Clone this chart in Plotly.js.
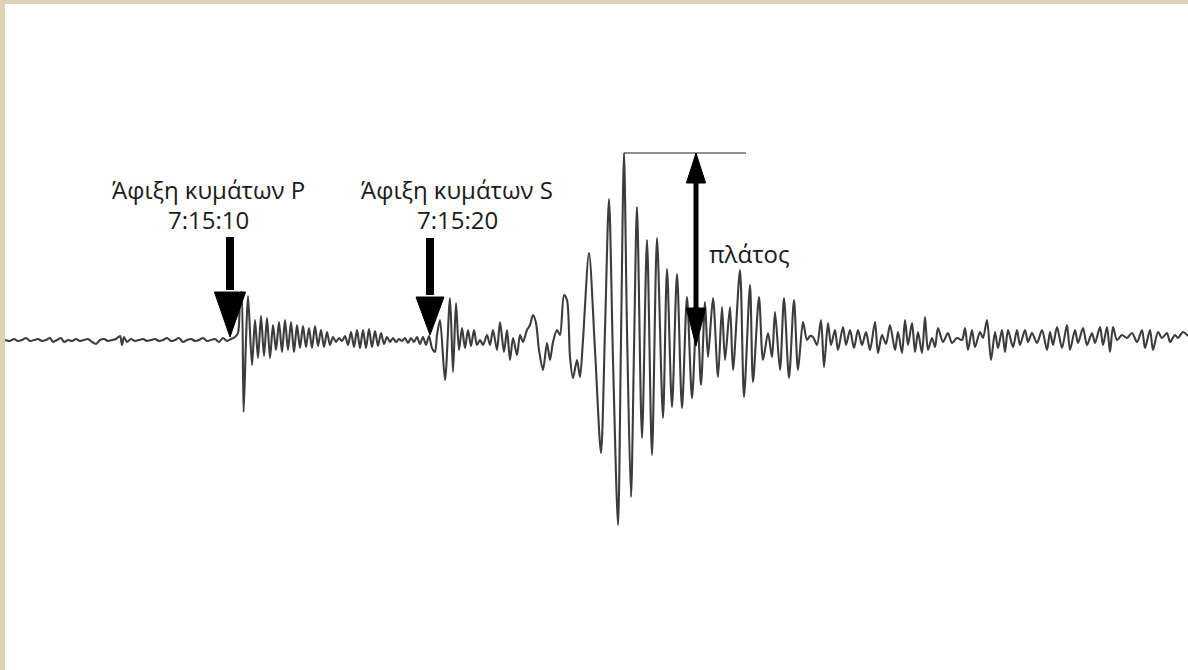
<!DOCTYPE html>
<html>
<head>
<meta charset="utf-8">
<script src="https://cdn.plot.ly/plotly-3.0.1.min.js"></script>
<style>html,body{margin:0;padding:0;background:#fff;}#chart{width:1188px;height:670px;}</style>
</head>
<body>
<div id="chart"></div>
<script>
// time in seconds after 7:15:00, ground motion amplitude (arbitrary units)
const preEventT = [-1.25,-1.00,-0.80,-0.60,-0.40,-0.20,0.00,0.20,0.40,0.60,0.80,1.00,1.15,1.35,1.55,1.70,1.90,2.10,2.30,2.50,2.70,2.90,3.10,3.30,3.50,3.70,3.90,4.10,4.30,4.50,4.60,4.70,4.85,5.05,5.25,5.45,5.65,5.85,6.05,6.25,6.45,6.65,6.85,7.05,7.25,7.45,7.65,7.85,8.05,8.25,8.45,8.65,8.85,9.05,9.25,9.45,9.65,9.85,10.05,10.25,10.40];
const preEventA = [0,-1,1,-1,0,2,-1,0,1,-1,0,2,-2,0,2,-2,0,-1,1,-1,0,1,-2,-4,0,1,-1,0,1,4,-5,3,-2,1,-1,0,1,-1,0,1,-1,0,2,-1,0,2,-2,0,1,-1,0,2,-1,0,1,-2,2,-1,1,3,7];

const pWaveT = [10.50,10.58,10.68,10.80,10.90,11.10,11.25,11.40,11.55,11.70,11.85,12.00,12.15,12.30,12.45,12.60,12.75,12.90,13.05,13.20,13.35,13.50,13.65,13.80,13.95,14.10,14.25,14.40,14.55,14.70,14.85,15.00,15.15,15.30,15.45,15.60,15.75,15.90,16.05,16.20,16.35,16.50,16.65,16.80,16.95,17.10,17.25,17.40,17.55,17.70,17.85,18.00,18.15,18.30,18.45,18.60,18.75,18.90,19.05,19.20,19.35,19.50,19.65,19.80,19.95];
const pWaveA = [40,48,-72,0,44,-25,20,-18,24,-16,22,-18,15,-10,18,-12,20,-10,18,-12,15,-8,14,-7,12,-8,14,-6,10,-7,8,-5,3,-2,2,-1,4,-5,8,-7,10,-8,10,-8,11,-7,9,-6,7,-4,3,-2,2,-2,1,-1,2,-3,2,-2,3,-4,3,-5,4];

const sWaveT = [20.10,20.25,20.35,20.50,20.75,21.00,21.15,21.30,21.45,21.60,21.75,21.90,22.05,22.20,22.35,22.50,22.65,22.85,23.00,23.15,23.35,23.50,23.70,23.85,24.00,24.15,24.35,24.50,24.65,24.85,25.00,25.15,25.30,25.45,25.65,25.85,26.00,26.15,26.35,26.50,26.70,26.85,27.00,27.15,27.35,27.50,27.65];
const sWaveA = [-8,-12,5,20,-40,42,-32,37,-10,12,-8,10,-6,10,-5,0,-5,5,-5,10,-10,18,-12,10,-20,2,-15,5,-2,10,15,25,17,-10,-30,-3,-20,-2,10,5,45,40,-17,-38,-20,-37,0];

const surfaceT = [27.95,28.25,28.55,28.75,28.95,29.15,29.40,29.55,29.70,29.85,30.05,30.20,30.35,30.60,30.85,31.10,31.35,31.65,31.85,32.10,32.35,32.60,32.85,33.10,33.35,33.55,33.75,33.90,34.15,34.40,34.60,34.75,35.00,35.15,35.50,35.70,36.00,36.15,36.45,36.65,36.90,37.10,37.25,37.50,37.70,37.95,38.20,38.40,38.65,38.85];
const surfaceA = [87,-10,-113,10,141,-20,-185,0,187,10,-157,-10,133,-98,100,-115,102,-78,71,-67,66,-68,43,-58,35,-45,38,-17,42,-37,33,-20,33,-30,70,-57,55,-42,43,-20,7,-17,28,-30,42,-38,40,-30,18,0];

const codaT = [39.00,39.15,39.35,39.55,39.70,39.90,40.05,40.25,40.40,40.65,40.80,41.00,41.20,41.40,41.60,41.80,42.00,42.25,42.40,42.60,42.80,43.00,43.25,43.40,43.60,43.75,43.90,44.10,44.25,44.40,44.60,44.75,44.90,45.10,45.25,45.40,45.65,45.90,46.10,46.35,46.60,46.75,46.90,47.10,47.25,47.50,47.65,47.85,48.05,48.25,48.40,48.60,48.75,48.90,49.15,49.35,49.50,49.75,49.90,50.10,50.35,50.60,50.85,51.00,51.15,51.35,51.60,51.85,52.00,52.25,52.40,52.65,52.85,53.10,53.25,53.50,53.65,53.85,54.00,54.15,54.35,54.60,54.85,55.10,55.35,55.60,55.75,56.00,56.15,56.40,56.60,56.85,57.00,57.25,57.40,57.65,57.90];
const codaA = [4,3,-5,20,-27,17,-5,10,-10,13,-5,10,-8,10,-5,8,-10,18,-13,5,-4,15,-10,8,-13,20,-5,17,-12,8,-13,23,-10,2,-7,12,-2,7,-3,2,0,12,-10,10,-7,8,2,20,-20,8,-8,10,-12,10,-7,10,-5,10,-2,7,-3,10,-10,8,-5,13,-8,15,-10,10,-3,12,-5,7,-3,13,-5,13,-12,13,0,5,2,7,-2,10,-8,10,-10,8,2,7,-2,5,2,8,4];

const arrivalTimes = [10, 20];
const arrivalLabels = ['Άφιξη κυμάτων P', 'Άφιξη κυμάτων S'];
const arrivalClock = ['7:15:10', '7:15:20'];
const amplitudeLabel = 'πλάτος';

const timeSec = [].concat(preEventT, pWaveT, sWaveT, surfaceT, codaT);
const amplitude = [].concat(preEventA, pWaveA, sWaveA, surfaceA, codaA);

let peakIdx = 0;
amplitude.forEach((v, i) => { if (v > amplitude[peakIdx]) peakIdx = i; });
const peakT = timeSec[peakIdx];
const peakA = amplitude[peakIdx];

const trace = {
  x: timeSec, y: amplitude, type: 'scatter', mode: 'lines',
  line: {color: '#3c3c3c', width: 2.1, shape: 'spline', smoothing: 0.8},
  hoverinfo: 'skip'
};

const font = {family: 'Open Sans, sans-serif', size: 24, color: '#1a1a1a'};
const shapes = [];
const annotations = [];

// arrival arrows
const arrowGeom = [
  {shaftTop: 103, shaftBot: 50, headBase: 48, tip: 3, half: 0.78, textX: 8.9},
  {shaftTop: 102, shaftBot: 45, headBase: 43, tip: 5, half: 0.70, textX: 21.35}
];
arrivalTimes.forEach((t, i) => {
  const g = arrowGeom[i];
  shapes.push({type: 'line', xref: 'x', yref: 'y', x0: t, x1: t, y0: g.shaftTop, y1: g.shaftBot,
    line: {color: '#000', width: 8}});
  shapes.push({type: 'path', xref: 'x', yref: 'y',
    path: `M ${t - g.half},${g.headBase} L ${t + g.half},${g.headBase} L ${t},${g.tip} Z`,
    fillcolor: '#000', line: {color: '#000', width: 1}});
  annotations.push({x: g.textX, y: 151, xref: 'x', yref: 'y', text: arrivalLabels[i],
    showarrow: false, xanchor: 'center', yanchor: 'middle', font: font});
  annotations.push({x: g.textX, y: 121, xref: 'x', yref: 'y', text: arrivalClock[i],
    showarrow: false, xanchor: 'center', yanchor: 'middle', font: font});
});

// amplitude marker
const ampX = 33.3;
shapes.push({type: 'line', xref: 'x', yref: 'y', x0: peakT, x1: 35.8, y0: peakA, y1: peakA,
  line: {color: '#222', width: 1.2}});
shapes.push({type: 'line', xref: 'x', yref: 'y', x0: ampX, x1: ampX, y0: peakA - 25, y1: 30,
  line: {color: '#000', width: 5}});
shapes.push({type: 'path', xref: 'x', yref: 'y',
  path: `M ${ampX - 0.48},${peakA - 30} L ${ampX + 0.48},${peakA - 30} L ${ampX},${peakA} Z`,
  fillcolor: '#000', line: {color: '#000', width: 1}});
shapes.push({type: 'path', xref: 'x', yref: 'y',
  path: `M ${ampX - 0.48},32 L ${ampX + 0.48},32 L ${ampX},-6 Z`,
  fillcolor: '#000', line: {color: '#000', width: 1}});
annotations.push({x: 33.85, y: 87, xref: 'x', yref: 'y', text: amplitudeLabel,
  showarrow: false, xanchor: 'left', yanchor: 'middle', font: font});

// beige frame edges
shapes.push({type: 'rect', xref: 'paper', yref: 'paper', x0: 0, x1: 5/1188, y0: 0, y1: 1,
  fillcolor: '#dcd2b6', line: {width: 0}, layer: 'above'});
shapes.push({type: 'rect', xref: 'paper', yref: 'paper', x0: 0, x1: 1, y0: 1 - 4/670, y1: 1,
  fillcolor: '#dcd2b6', line: {width: 0}, layer: 'above'});

const layout = {
  width: 1188, height: 670,
  margin: {l: 0, r: 0, t: 0, b: 0, pad: 0},
  paper_bgcolor: '#fff', plot_bgcolor: '#fff',
  showlegend: false,
  xaxis: {range: [-1.5, 57.9], visible: false, fixedrange: true},
  yaxis: {range: [-330, 340], visible: false, fixedrange: true},
  shapes: shapes,
  annotations: annotations
};

Plotly.newPlot('chart', [trace], layout, {staticPlot: true, displayModeBar: false});
</script>
</body>
</html>
